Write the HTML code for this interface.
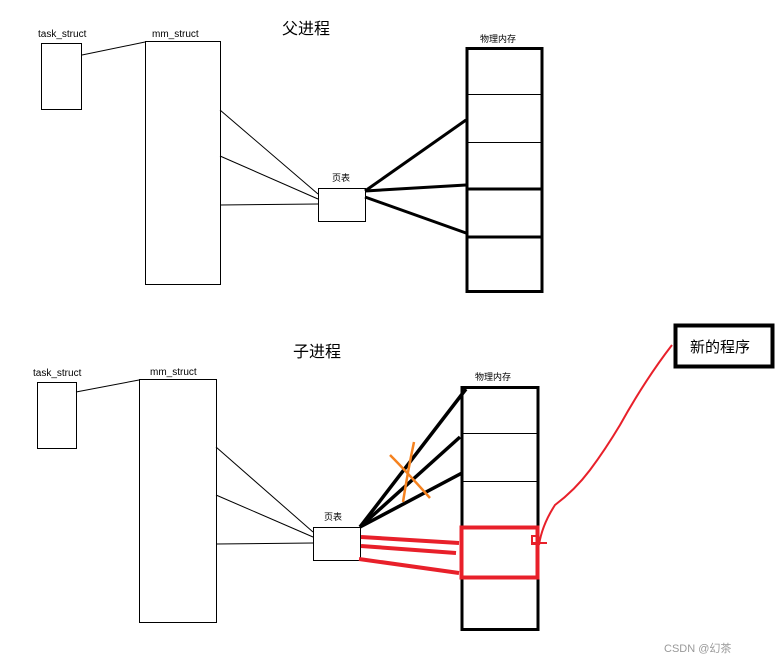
<!DOCTYPE html>
<html><head><meta charset="utf-8"><style>
body{margin:0;background:#fff}
svg text{font-family:"Liberation Sans","Noto Sans CJK SC",sans-serif}
</style></head><body>
<svg width="775" height="664" viewBox="0 0 775 664" xmlns="http://www.w3.org/2000/svg">
<!-- top -->
<text x="38" y="37" font-size="10">task_struct</text>
<rect x="41.5" y="43.5" width="40" height="66" fill="none" stroke="#000"/>
<text x="152" y="37" font-size="10">mm_struct</text>
<rect x="145.5" y="41.5" width="75" height="243" fill="none" stroke="#000"/>
<line x1="82" y1="55" x2="145" y2="42" stroke="#000"/>
<text x="282" y="34" font-size="16">父进程</text>
<text x="480" y="42" font-size="9">物理内存</text>
<rect x="467" y="48.5" width="75" height="243" fill="none" stroke="#000" stroke-width="3"/>
<line x1="467" y1="94.5" x2="542" y2="94.5" stroke="#000"/>
<line x1="467" y1="142.5" x2="542" y2="142.5" stroke="#000"/>
<line x1="467" y1="189" x2="542" y2="189" stroke="#000" stroke-width="3"/>
<line x1="467" y1="237" x2="542" y2="237" stroke="#000" stroke-width="3"/>
<text x="332" y="181" font-size="9">页表</text>
<rect x="318.5" y="188.5" width="47" height="33" fill="none" stroke="#000"/>
<line x1="220" y1="110" x2="318" y2="194" stroke="#000"/>
<line x1="220" y1="156" x2="318" y2="199" stroke="#000"/>
<line x1="220" y1="205" x2="318" y2="204" stroke="#000"/>
<g stroke="#000" stroke-width="3">
<line x1="365" y1="191" x2="466" y2="120"/>
<line x1="365" y1="191" x2="466" y2="185"/>
<line x1="365" y1="197" x2="466" y2="233"/>
</g>
<!-- bottom -->
<text x="33" y="376" font-size="10">task_struct</text>
<rect x="37.5" y="382.5" width="39" height="66" fill="none" stroke="#000"/>
<text x="150" y="375" font-size="10">mm_struct</text>
<rect x="139.5" y="379.5" width="77" height="243" fill="none" stroke="#000"/>
<line x1="76" y1="392" x2="139" y2="380" stroke="#000"/>
<text x="293" y="357" font-size="16">子进程</text>
<text x="475" y="380" font-size="9">物理内存</text>
<rect x="462" y="387.5" width="76" height="242" fill="none" stroke="#000" stroke-width="3"/>
<line x1="462" y1="433.5" x2="538" y2="433.5" stroke="#000"/>
<line x1="462" y1="481.5" x2="538" y2="481.5" stroke="#000"/>
<text x="324" y="520" font-size="9">页表</text>
<rect x="313.5" y="527.5" width="47" height="33" fill="none" stroke="#000"/>
<line x1="216" y1="447" x2="313" y2="532" stroke="#000"/>
<line x1="216" y1="495" x2="313" y2="537" stroke="#000"/>
<line x1="216" y1="544" x2="313" y2="543" stroke="#000"/>
<g stroke="#000" stroke-width="3.5">
<line x1="360" y1="527" x2="466" y2="389"/>
<line x1="360" y1="527" x2="460" y2="437"/>
<line x1="360" y1="527" x2="462" y2="473"/>
</g>
<g stroke="#f5821f" stroke-width="2.5" fill="none">
<path d="M390 455 Q405 470 430 498"/>
<path d="M414 442 Q408 470 403 502"/>
</g>
<rect x="461.5" y="527.5" width="76" height="50" fill="none" stroke="#e8202a" stroke-width="4"/>
<g stroke="#e8202a" stroke-width="4">
<line x1="361" y1="537" x2="459" y2="543"/>
<line x1="361" y1="546" x2="456" y2="553"/>
<line x1="359" y1="559" x2="459" y2="573"/>
</g>
<path d="M539 545 Q542 525 555 505 Q575 490 590 470 Q605 450 620 425 Q645 380 672 345" fill="none" stroke="#e8202a" stroke-width="2"/>
<rect x="532" y="536" width="5" height="8" fill="none" stroke="#e8202a" stroke-width="2"/>
<line x1="533" y1="543" x2="547" y2="543" stroke="#e8202a" stroke-width="2"/>
<rect x="675.5" y="325.5" width="97" height="41" fill="none" stroke="#000" stroke-width="4"/>
<text x="690" y="352" font-size="15">新的程序</text>
<text x="664" y="652" font-size="11" fill="#999">CSDN @幻茶</text>
</svg>
</body></html>
